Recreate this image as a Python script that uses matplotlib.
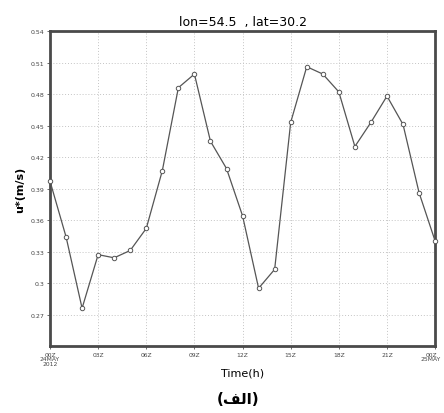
import numpy as np
import matplotlib
matplotlib.use('Agg')
import matplotlib.pyplot as plt
import matplotlib.transforms as mtransforms

# hourly u* values, 00Z 24 May 2012 -> 00Z 25 May
hours = list(range(25))
ustar = [0.397, 0.344, 0.276, 0.327, 0.324, 0.331, 0.352, 0.407, 0.486, 0.499,
         0.435, 0.409, 0.364, 0.295, 0.313, 0.453, 0.506, 0.499, 0.482, 0.430,
         0.453, 0.478, 0.451, 0.386, 0.340]

xtick_pos = [0, 3, 6, 9, 12, 15, 18, 21, 24]
xtick_lab = ['00Z\n24MAY\n2012', '03Z', '06Z', '09Z', '12Z', '15Z', '18Z', '21Z', '00Z\n25MAY']
ytick_pos = [0.27, 0.30, 0.33, 0.36, 0.39, 0.42, 0.45, 0.48, 0.51, 0.54]
ytick_lab = ['0.27', '0.3', '0.33', '0.36', '0.39', '0.42', '0.45', '0.48', '0.51', '0.54']

fig = plt.figure(figsize=(4.44, 4.14), dpi=100)
ax = fig.add_axes([0.1126, 0.1618, 0.8674, 0.7609])

ax.plot(hours, ustar, color='#555555', lw=0.9, marker='o', ms=3.2,
        mfc='white', mec='#555555', mew=0.7, clip_on=False, zorder=3)

ax.set_xlim(0, 24)
ax.set_ylim(0.24, 0.54)
ax.set_xticks(xtick_pos)
ax.set_xticklabels(xtick_lab, fontsize=4.3, color='#444444', linespacing=0.9)
ax.set_yticks(ytick_pos)
ax.set_yticklabels(ytick_lab, fontsize=4.5, color='#444444')
ax.tick_params(length=2, width=0.6, color='#555555', pad=2)
# pull the last (right edge) label in a little so it stays on the canvas
last = ax.get_xticklabels()[-1]
last.set_transform(last.get_transform() +
                   mtransforms.ScaledTranslation(-4 / 100, 0, fig.dpi_scale_trans))

ax.grid(True, color='#c4c4c4', ls=(0, (1, 2)), lw=0.7)
for sp in ax.spines.values():
    sp.set_linewidth(2.0)
    sp.set_color('#4a4a4a')

ax.set_title('lon=54.5  , lat=30.2', fontsize=9, pad=4)
ax.set_xlabel('Time(h)', fontsize=8, labelpad=1)
ax.set_ylabel('u*(m/s)', fontsize=8, fontweight='bold', labelpad=4)

# caption (Arabic, presentation forms so the letters join)
fig.text(0.536, 0.035, '(\ufed2\ufedf\ufe8d)', ha='center', va='center',
         fontsize=11, fontweight='bold', family='DejaVu Sans')

fig.savefig('out.png', dpi=100)
